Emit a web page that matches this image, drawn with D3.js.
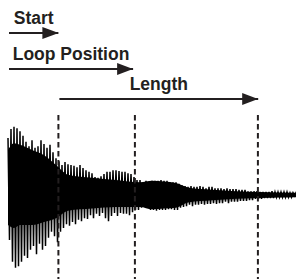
<!DOCTYPE html>
<html>
<head>
<meta charset="utf-8">
<script src="https://cdn.jsdelivr.net/npm/d3@7"></script>
<style>
  body { margin: 0; background: #fff; }
  svg { display: block; }
  text { font-family: "Liberation Sans", Arial, sans-serif; font-weight: bold; fill: #231f20; }
</style>
</head>
<body>
<div id="chart"></div>
<script>
// waveform peaks, one cycle per sample (amplitude in %)
var peakTop = [76, 88, 91, 89, 85, 79, 71, 65, 73, 63, 65, 73, 68, 63, 67, 57, 49, 45, 40, 44,
  41, 40, 39, 37, 40, 36, 33, 31, 29, 24, 23, 25, 28, 31, 31, 33, 33, 32, 31, 31,
  29, 28, 24, 20, 20, 16, 19, 17, 19, 19, 19, 20, 19, 19, 17, 17, 17, 15, 13, 12,
  11, 12, 11, 11, 12, 11, 9, 11, 11, 9, 9, 9, 8, 9, 8, 8, 8, 7, 7, 7,
  5, 5, 5, 5, 4, 4, 4, 4, 5, 4, 4, 4, 4, 4, 3, 3, 3];
var peakBottom = [-60, -89, -97, -95, -89, -81, -84, -73, -68, -79, -65, -73, -68, -57, -49, -55, -63, -49, -44, -39,
  -41, -36, -39, -33, -35, -31, -32, -27, -31, -25, -28, -24, -31, -35, -28, -24, -28, -24, -25, -25,
  -27, -23, -20, -20, -17, -16, -17, -20, -20, -21, -20, -20, -20, -19, -19, -20, -20, -17, -16, -15,
  -13, -15, -13, -13, -12, -13, -12, -12, -11, -12, -11, -11, -9, -11, -9, -9, -9, -8, -8, -8,
  -7, -7, -5, -5, -5, -4, -4, -4, -4, -3, -3, -3, -3, -3, -3, -1, -1];

// dense (solid) part of the waveform
var coreAt = [0, 2, 4, 8, 12, 16, 20, 28, 36, 44, 48, 52, 56, 60, 68, 76, 84, 96];
var coreTop = [60, 69, 67, 60, 53, 40, 27, 23, 20, 17, 19, 18, 16, 10, 7, 5, 4, 3];
var coreBottom = [-40, -44, -40, -40, -36, -31, -21, -18, -16, -16, -19, -18, -17, -10, -7, -5, -4, -3];

// markers in sample units
var markerNames = ["Start", "Loop Position", "Length"];
var markerFrom = [0, 0, 16.8];
var markerTo = [16.8, 41.7, 83.4];
var dashPositions = [16.8, 42.3, 83.3];

var width = 296, height = 279;
var rowY = [33, 69, 99];

var svg = d3.select("#chart")
  .append("svg")
    .attr("width", width)
    .attr("height", height);

var n = Math.min(peakTop.length, peakBottom.length);
var x = d3.scaleLinear()
  .domain([0, n - 1])
  .range([8, 296]);
var y = d3.scaleLinear()
  .domain([-100, 100])
  .range([270, 120]);

// solid core
svg.append("path")
  .datum(coreAt)
  .attr("d", d3.area()
    .curve(d3.curveMonotoneX)
    .x(function(d) { return x(d); })
    .y0(function(d, i) { return y(coreBottom[i]); })
    .y1(function(d, i) { return y(coreTop[i]); }))
  .attr("fill", "#000");

// zigzag between positive and negative peak of each cycle
var pts = [];
for (var i = 0; i < n; i++) {
  pts.push([x(i), y(peakTop[i])]);
  pts.push([x(i + 0.5), y(peakBottom[i])]);
}
svg.append("path")
  .attr("d", d3.line()(pts))
  .attr("fill", "none")
  .attr("stroke", "#000")
  .attr("stroke-width", 1.5);

// dashed lines
svg.selectAll(".dash")
  .data(dashPositions)
  .enter()
  .append("line")
    .attr("class", "dash")
    .attr("x1", function(d) { return x(d); })
    .attr("x2", function(d) { return x(d); })
    .attr("y1", 115)
    .attr("y2", 279)
    .attr("stroke", "#231f20")
    .attr("stroke-width", 2)
    .attr("stroke-dasharray", "5.5,3.5");

// arrows
svg.append("defs").append("marker")
    .attr("id", "head")
    .attr("viewBox", "0 0 16 12")
    .attr("refX", 16)
    .attr("refY", 6)
    .attr("markerWidth", 16)
    .attr("markerHeight", 12)
    .attr("markerUnits", "userSpaceOnUse")
    .attr("orient", "auto")
  .append("path")
    .attr("d", "M0,0L16,6L0,12Z")
    .attr("fill", "#231f20");

var rows = svg.selectAll(".marker")
  .data(markerNames)
  .enter()
  .append("g")
    .attr("class", "marker");

rows.append("line")
  .attr("x1", function(d, i) { return x(markerFrom[i]) + 1; })
  .attr("x2", function(d, i) { return x(markerTo[i]); })
  .attr("y1", function(d, i) { return rowY[i]; })
  .attr("y2", function(d, i) { return rowY[i]; })
  .attr("stroke", "#231f20")
  .attr("stroke-width", 2)
  .attr("marker-end", "url(#head)");

rows.append("text")
  .attr("x", function(d, i) { return (x(markerFrom[i]) + 1 + x(markerTo[i])) / 2; })
  .attr("y", function(d, i) { return rowY[i] - 8.7; })
  .attr("text-anchor", "middle")
  .attr("font-size", "17.5px")
  .text(function(d) { return d; });
</script>
</body>
</html>
